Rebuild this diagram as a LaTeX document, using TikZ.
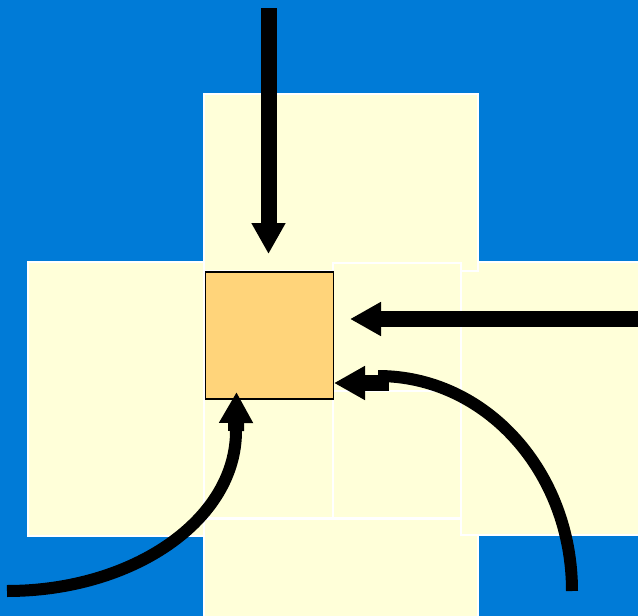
\documentclass[tikz,border=0pt]{standalone}
\usetikzlibrary{arrows.meta}
\definecolor{bgblue}{RGB}{0,123,215}
\definecolor{cream}{RGB}{255,255,217}
\definecolor{sqfill}{RGB}{255,212,122}
\tikzset{
  panel/.style={fill=cream, draw=white, line width=2pt},
  bigarrow/.style={line width=16pt, -{Triangle[length=31pt,width=32pt]}},
  curvearrow/.style={line width=12pt},
  shortarrow/.style={line width=16pt, -{Triangle[length=31pt,width=32pt]}},
}
\begin{document}
\begin{tikzpicture}[x=1pt,y=-1pt]
\useasboundingbox (0,0) rectangle (638,616);
\fill[bgblue] (0,0) rectangle (638,616);
% panels
\draw[panel] (204,519) rectangle (478,625);
\draw[panel] (28,262) rectangle (204,536);
\draw[panel] (461,262) rectangle (645,535);
\draw[panel] (204,94) rectangle (478,271);
\draw[panel] (333,263) rectangle (461,391);
\draw[panel] (333,391) rectangle (461,518);
\draw[panel] (204,391) rectangle (333,518);
% central square
\node[draw=black, line width=1.5pt, fill=sqfill, minimum width=128pt, minimum height=127pt, inner sep=0pt, anchor=north west] (sq) at (204.5,271) {};
% coordinates
\coordinate (topstart) at (268.5,8);
\coordinate (toptip) at (268.5,254);
\coordinate (rightstart) at (645,319);
\coordinate (righttip) at (350,319);
\coordinate (brstart) at (572,591);
\coordinate (brend) at (378,376);
\coordinate (brblock) at (389,383);
\coordinate (brtip) at (334,383);
\coordinate (blstart) at (7,591);
\coordinate (blend) at (236,431);
\coordinate (bltip) at (236.5,392);
% arrows
\draw[bigarrow] (topstart) -- (toptip);
\draw[bigarrow] (rightstart) -- (righttip);
\draw[curvearrow] (brstart) .. controls (572,472) and (486,376) .. (brend);
\draw[shortarrow] (brblock) -- (brtip);
\draw[curvearrow] (blstart) .. controls (133,591) and (236,520) .. (blend);
\draw[shortarrow] (blend) -- (bltip);
\end{tikzpicture}
\end{document}
